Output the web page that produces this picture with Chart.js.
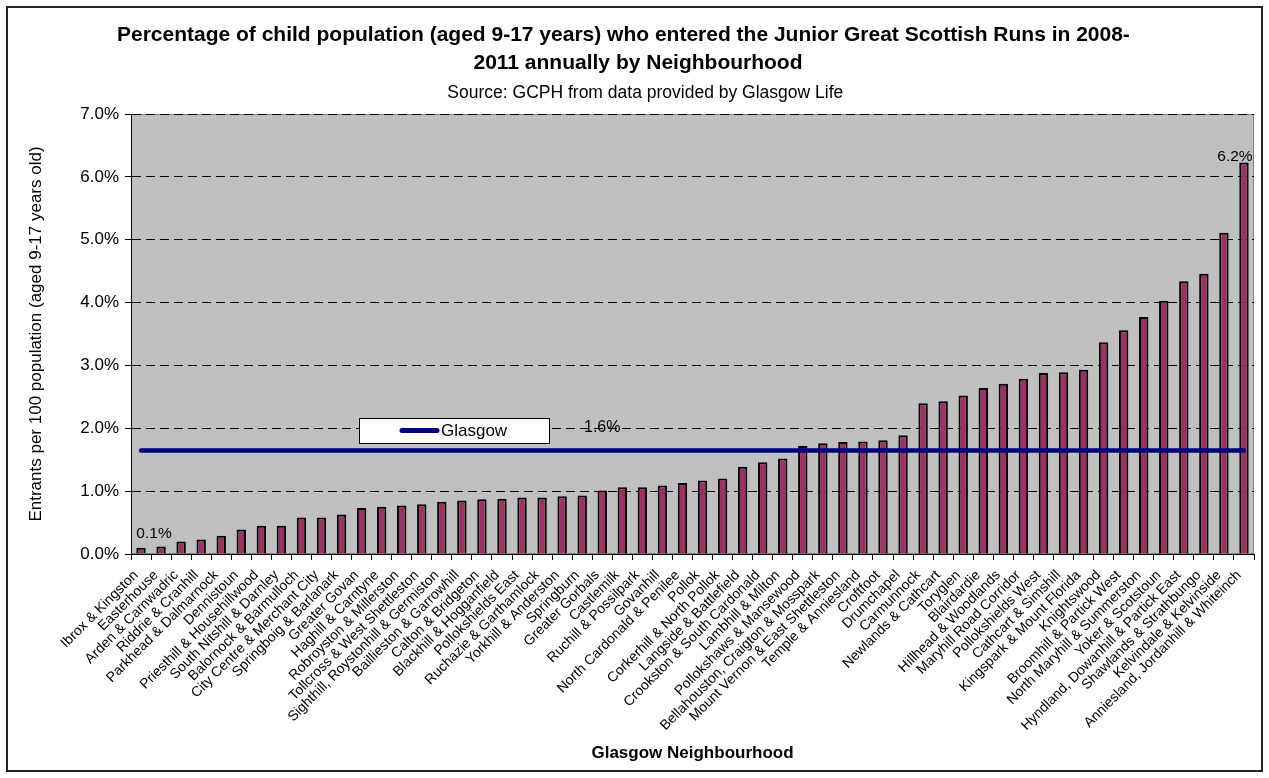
<!DOCTYPE html>
<html>
<head>
<meta charset="utf-8">
<title>Junior Great Scottish Runs entrants by neighbourhood</title>
<script src="https://cdn.jsdelivr.net/npm/chart.js@4"></script>
<style>
  html, body { margin: 0; padding: 0; background: #fff; }
  #wrap { position: relative; width: 1269px; height: 778px; }
</style>
</head>
<body>
<div id="wrap"><canvas id="myChart"></canvas></div>
<script>
const neighbourhoods = [
  "Ibrox & Kingston", "Easterhouse", "Arden & Carnwadric", "Riddrie & Cranhill",
  "Parkhead & Dalmarnock", "Dennistoun", "Priesthill & Househillwood",
  "South Nitshill & Darnley", "Balornock & Barmulloch", "City Centre & Merchant City",
  "Springboig & Barlanark", "Greater Govan", "Haghill & Carntyne",
  "Robroyston & Millerston", "Tollcross & West Shettleston",
  "Sighthill, Roystonhill & Germiston", "Baillieston & Garrowhill",
  "Calton & Bridgeton", "Blackhill & Hogganfield", "Pollokshields East",
  "Ruchazie & Garthamlock", "Yorkhill & Anderston", "Springburn", "Greater Gorbals",
  "Castlemilk", "Ruchill & Possilpark", "Govanhill", "North Cardonald & Penilee",
  "Pollok", "Corkerhill & North Pollok", "Langside & Battlefield",
  "Crookston & South Cardonald", "Lambhill & Milton", "Pollokshaws & Mansewood",
  "Bellahouston, Craigton & Mosspark", "Mount Vernon & East Shettleston",
  "Temple & Anniesland", "Croftfoot", "Drumchapel", "Carmunnock",
  "Newlands & Cathcart", "Toryglen", "Blairdardie", "Hillhead & Woodlands",
  "Maryhill Road Corridor", "Pollokshields West", "Cathcart & Simshill",
  "Kingspark & Mount Florida", "Knightswood", "Broomhill & Partick West",
  "North Maryhill & Summerston", "Yoker & Scotstoun",
  "Hyndland, Dowanhill & Partick East", "Shawlands & Strathbungo",
  "Kelvindale & Kelvinside", "Anniesland, Jordanhill & Whiteinch"
];

// entrants per 100 children aged 9-17, annual average 2008-2011
const entrantsPct = [
  0.10, 0.12, 0.20, 0.23, 0.29, 0.39, 0.45, 0.45, 0.58, 0.58,
  0.63, 0.73, 0.75, 0.77, 0.79, 0.83, 0.85, 0.87, 0.88, 0.90,
  0.90, 0.92, 0.93, 1.01, 1.06, 1.06, 1.09, 1.13, 1.17, 1.20,
  1.39, 1.46, 1.52, 1.72, 1.76, 1.78, 1.79, 1.81, 1.89, 2.40,
  2.43, 2.52, 2.64, 2.71, 2.79, 2.88, 2.89, 2.93, 3.37, 3.56,
  3.77, 4.03, 4.34, 4.46, 5.11, 6.23
];

const glasgowPct = 1.645;
const glasgowLine = neighbourhoods.map(() => glasgowPct);

const yMin = 0;
const yMax = 7;
const yStep = 1;

// which points get a value label
const labelledBars = [0, entrantsPct.length - 1];
const labelledLinePoint = 23;

const FONT = "'Liberation Sans', Arial, sans-serif";
const pct = (v) => `${v.toFixed(1)}%`;

Chart.defaults.font.family = FONT;
Chart.defaults.color = "#000";

const chartDecor = {
  id: "chartDecor",
  beforeDraw(chart) {
    const { ctx, chartArea: a } = chart;
    ctx.save();
    ctx.fillStyle = "#c0c0c0";
    ctx.fillRect(a.left, a.top, a.width, a.height);
    ctx.strokeStyle = "#808080";
    ctx.lineWidth = 1;
    ctx.strokeRect(a.left + 0.5, a.top + 0.5, a.width - 1, a.height - 1);
    ctx.restore();
  },
  afterDatasetsDraw(chart) {
    const { ctx, chartArea: a } = chart;
    const bars = chart.getDatasetMeta(1).data;
    const line = chart.getDatasetMeta(0).data;

    ctx.save();
    ctx.fillStyle = "#000";
    ctx.textAlign = "center";
    ctx.textBaseline = "alphabetic";
    ctx.font = `15.5px ${FONT}`;

    // first bar label sits a little right of the bar, last one leans left
    const first = bars[labelledBars[0]];
    ctx.fillText(pct(entrantsPct[labelledBars[0]]), first.x + 13, first.y - 10);
    const last = bars[labelledBars[1]];
    ctx.fillText(pct(entrantsPct[labelledBars[1]]), last.x - 9, last.y - 1);

    ctx.font = `16px ${FONT}`;
    ctx.textBaseline = "middle";
    const p = line[labelledLinePoint];
    ctx.fillText(pct(glasgowPct), p.x, p.y - 23);

    // legend box
    const lx = a.left + 228;
    const ly = a.top + 304;
    const lw = 190;
    const lh = 25;
    ctx.fillStyle = "#fff";
    ctx.fillRect(lx, ly, lw, lh);
    ctx.strokeStyle = "#000";
    ctx.lineWidth = 1;
    ctx.strokeRect(lx + 0.5, ly + 0.5, lw, lh);
    ctx.strokeStyle = "#000080";
    ctx.lineWidth = 5;
    ctx.lineCap = "round";
    ctx.beginPath();
    ctx.moveTo(lx + 43, ly + lh / 2);
    ctx.lineTo(lx + 78, ly + lh / 2);
    ctx.stroke();
    ctx.fillStyle = "#000";
    ctx.textAlign = "left";
    ctx.font = `17px ${FONT}`;
    ctx.fillText(chart.data.datasets[0].label, lx + 82, ly + lh / 2 + 1);
    ctx.restore();
  },
  afterDraw(chart) {
    const { ctx } = chart;
    ctx.save();
    ctx.strokeStyle = "#222";
    ctx.lineWidth = 2;
    ctx.strokeRect(7, 7, 1255, 764);
    ctx.restore();
  },
};

const chartCtx = document.getElementById("myChart");

new Chart(chartCtx, {
  data: {
    labels: neighbourhoods,
    datasets: [
      {
        type: "line",
        label: "Glasgow",
        data: glasgowLine,
        borderColor: "#000080",
        borderWidth: 4.5,
        borderCapStyle: "round",
        pointRadius: 0,
        order: 0,
      },
      {
        type: "bar",
        label: "Neighbourhood",
        data: entrantsPct,
        backgroundColor: "#993366",
        borderColor: "#000",
        borderWidth: 2,
        barPercentage: 0.47,
        categoryPercentage: 1,
        order: 1,
      },
    ],
  },
  options: {
    responsive: true,
    maintainAspectRatio: false,
    animation: false,
    layout: {
      padding: { top: 10, left: 22, right: 15, bottom: 10 },
    },
    plugins: {
      legend: { display: false },
      tooltip: { enabled: false },
      title: {
        display: true,
        // the first line wraps after "2008-" and keeps its trailing gap
        text: [
          "Percentage of child population (aged 9-17 years) who entered the Junior Great Scottish Runs in 2008-     ",
          "2011 annually by Neighbourhood",
        ],
        color: "#000",
        font: { size: 21, weight: "bold", lineHeight: 1.3 },
        padding: { top: 12, bottom: 0 },
      },
      subtitle: {
        display: true,
        text: "   Source: GCPH from data provided by Glasgow Life",
        color: "#000",
        font: { size: 17.5, lineHeight: 1.2 },
        padding: { top: 6, bottom: 10.4 },
      },
    },
    scales: {
      x: {
        offset: true,
        grid: {
          display: true,
          offset: true,
          drawOnChartArea: false,
          drawTicks: true,
          tickLength: 6,
          color: "#000",
        },
        border: { display: true, color: "#000", width: 1 },
        ticks: {
          autoSkip: false,
          minRotation: 45,
          maxRotation: 45,
          padding: 7,
          labelOffset: -5,
          color: "#000",
          font: { size: 14 },
        },
        title: {
          display: true,
          text: "Glasgow Neighbourhood",
          color: "#000",
          font: { size: 17, weight: "bold" },
          padding: { top: 4, bottom: 4 },
        },
        afterFit: (scale) => {
          scale.height = 214;
        },
      },
      y: {
        min: yMin,
        max: yMax,
        ticks: {
          stepSize: yStep,
          padding: 6,
          color: "#000",
          font: { size: 17 },
          callback: (v) => pct(v),
        },
        grid: {
          color: "#000",
          lineWidth: 1,
          drawTicks: true,
          tickLength: 6,
          tickBorderDash: [],
        },
        border: { display: true, color: "#000", width: 1, dash: [9, 5] },
        title: {
          display: true,
          text: "Entrants per 100 population (aged 9-17 years old)",
          color: "#000",
          font: { size: 17 },
          padding: { top: 4, bottom: 4 },
        },
        afterFit: (scale) => {
          scale.width = 109;
        },
      },
    },
  },
  plugins: [chartDecor],
});
</script>
</body>
</html>
